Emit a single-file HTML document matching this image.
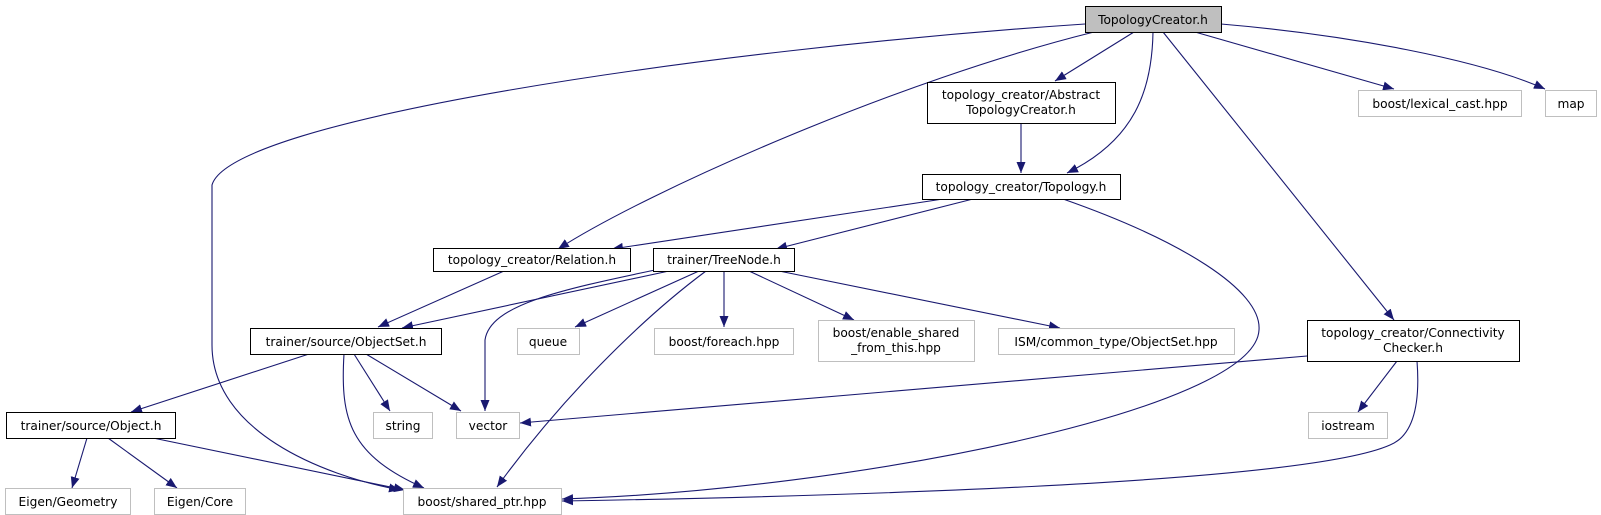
<!DOCTYPE html>
<html><head><meta charset="utf-8"><style>
html,body{margin:0;padding:0;background:#fff;}
svg{display:block;}
text{font-family:"DejaVu Sans","Liberation Sans",sans-serif;font-size:12.2px;fill:#000;}
</style></head><body>
<svg width="1601" height="515" viewBox="0 0 1601 515" xmlns="http://www.w3.org/2000/svg">
<defs>
<marker id="a" markerUnits="userSpaceOnUse" markerWidth="12" markerHeight="10" refX="11" refY="4.5" orient="auto">
<path d="M0,0 L11,4.5 L0,9 Z" fill="#191970"/>
</marker>
</defs>
<g fill="none" stroke="#191970" stroke-width="1.1" marker-end="url(#a)">
<path d="M1085,24 C700,50 230,120 212,185 L212,345 C212,430 320,475 400,490"/>
<path d="M1094,32 C900,80 650,190 558,249"/>
<path d="M1134,32 L1055,81"/>
<path d="M1153,32 C1152,90 1135,140 1067,173"/>
<path d="M1163,32 L1394,320"/>
<path d="M1195,32 L1394,89"/>
<path d="M1221,24 C1350,35 1480,60 1545,89"/>
<path d="M1021,123 L1021,173"/>
<path d="M943,199 L612,249"/>
<path d="M973,199 L776,249"/>
<path d="M1063,199 C1180,240 1262,290 1259,330 C1255,410 850,490 562,499"/>
<path d="M1417,361 C1420,400 1415,435 1390,445 C1300,485 800,497 562,501"/>
<path d="M1307,356 L520,423"/>
<path d="M1397,361 L1358,412"/>
<path d="M504,271 L378,327"/>
<path d="M669,271 L402,328"/>
<path d="M655,270 C560,290 490,305 485,340 L485,411"/>
<path d="M699,271 L575,327"/>
<path d="M706,271 C640,320 560,400 497,487"/>
<path d="M724,271 L724,327"/>
<path d="M749,271 L854,320"/>
<path d="M779,271 L1060,328"/>
<path d="M309,354 L131,412"/>
<path d="M344,354 C340,420 350,455 424,488"/>
<path d="M354,354 L390,411"/>
<path d="M366,354 L461,411"/>
<path d="M87,438 L72,488"/>
<path d="M108,438 L177,488"/>
<path d="M153,438 L405,490"/>
</g>
<g stroke-width="1">
<rect x="1085.5" y="6.5" width="136" height="26" fill="#bfbfbf" stroke="#000"/>
<rect x="927.5" y="82.5" width="188" height="41" fill="#fff" stroke="#000"/>
<rect x="1358.5" y="90.5" width="163" height="26" fill="#fff" stroke="#bfbfbf"/>
<rect x="1545.5" y="90.5" width="51" height="26" fill="#fff" stroke="#bfbfbf"/>
<rect x="922.5" y="174.5" width="198" height="25" fill="#fff" stroke="#000"/>
<rect x="433.5" y="248.5" width="197" height="23" fill="#fff" stroke="#000"/>
<rect x="653.5" y="248.5" width="141" height="23" fill="#fff" stroke="#000"/>
<rect x="250.5" y="328.5" width="191" height="26" fill="#fff" stroke="#000"/>
<rect x="517.5" y="328.5" width="62" height="26" fill="#fff" stroke="#bfbfbf"/>
<rect x="654.5" y="328.5" width="139" height="26" fill="#fff" stroke="#bfbfbf"/>
<rect x="818.5" y="320.5" width="156" height="41" fill="#fff" stroke="#bfbfbf"/>
<rect x="998.5" y="328.5" width="236" height="26" fill="#fff" stroke="#bfbfbf"/>
<rect x="1307.5" y="320.5" width="212" height="41" fill="#fff" stroke="#000"/>
<rect x="6.5" y="412.5" width="169" height="26" fill="#fff" stroke="#000"/>
<rect x="373.5" y="412.5" width="59" height="26" fill="#fff" stroke="#bfbfbf"/>
<rect x="456.5" y="412.5" width="63" height="26" fill="#fff" stroke="#bfbfbf"/>
<rect x="1308.5" y="412.5" width="79" height="26" fill="#fff" stroke="#bfbfbf"/>
<rect x="5.5" y="488.5" width="125" height="26" fill="#fff" stroke="#bfbfbf"/>
<rect x="154.5" y="488.5" width="91" height="26" fill="#fff" stroke="#bfbfbf"/>
<rect x="403.5" y="488.5" width="158" height="26" fill="#fff" stroke="#bfbfbf"/>
</g>
<g text-anchor="middle">
<text x="1153" y="24">TopologyCreator.h</text>
<text x="1021" y="99">topology_creator/Abstract</text>
<text x="1021" y="114">TopologyCreator.h</text>
<text x="1440" y="108">boost/lexical_cast.hpp</text>
<text x="1571" y="108">map</text>
<text x="1021" y="191">topology_creator/Topology.h</text>
<text x="532" y="264">topology_creator/Relation.h</text>
<text x="724" y="264">trainer/TreeNode.h</text>
<text x="346" y="346">trainer/source/ObjectSet.h</text>
<text x="548" y="346">queue</text>
<text x="724" y="346">boost/foreach.hpp</text>
<text x="896" y="337">boost/enable_shared</text>
<text x="896" y="352">_from_this.hpp</text>
<text x="1116" y="346">ISM/common_type/ObjectSet.hpp</text>
<text x="1413" y="337">topology_creator/Connectivity</text>
<text x="1413" y="352">Checker.h</text>
<text x="91" y="430">trainer/source/Object.h</text>
<text x="403" y="430">string</text>
<text x="488" y="430">vector</text>
<text x="1348" y="430">iostream</text>
<text x="68" y="506">Eigen/Geometry</text>
<text x="200" y="506">Eigen/Core</text>
<text x="482" y="506">boost/shared_ptr.hpp</text>
</g>
</svg>
</body></html>
